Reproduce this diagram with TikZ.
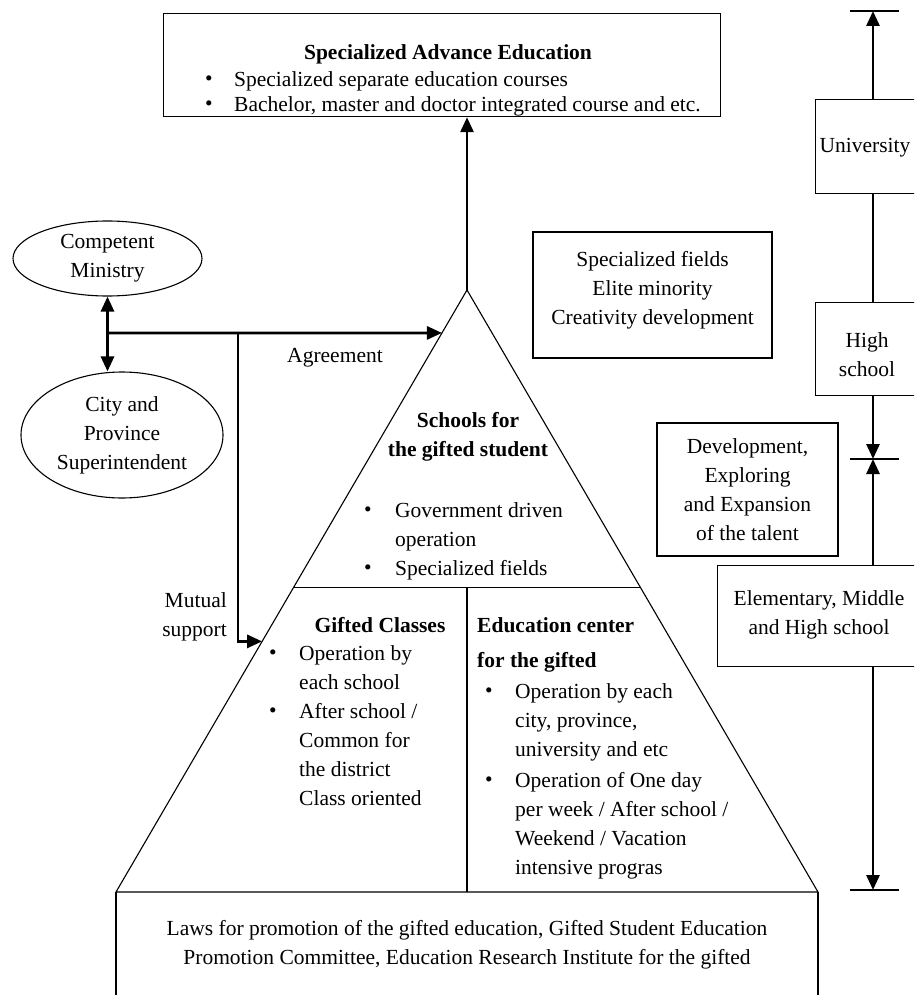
\documentclass[tikz,border=0pt]{standalone}
\usepackage{fontspec}
\setmainfont{Liberation Serif}
\usetikzlibrary{arrows.meta,calc,shapes.geometric}

\begin{document}
\begin{tikzpicture}[x=1pt,y=-1pt,
  txt/.style={font=\fontsize{21.5}{29}\selectfont, inner sep=0pt, align=center},
  ltxt/.style={font=\fontsize{21.5}{29}\selectfont, inner sep=0pt, align=left},
  frame/.style={draw, line width=1.2pt, inner sep=0pt},
  edge/.style={line width=1.1pt},
  heavy/.style={line width=2.8pt},
  flow/.style={line width=2.8pt, -{Triangle[length=15pt,width=13pt]}},
  biflow/.style={line width=2.8pt, {Triangle[length=15pt,width=13pt]}-{Triangle[length=15pt,width=13pt]}},
  dot/.style={font=\fontsize{21.5}{29}\selectfont, inner sep=0pt}
]
\useasboundingbox (0,0) rectangle (914,995);
\clip (0,0) rectangle (914,995);

% ---------- top box ----------
\node[frame, minimum width=557pt, minimum height=103pt, anchor=north west] (topbox) at (163,13) {};
\node[txt] (toptitle) at (448,54) {\textbf{Specialized Advance Education}};
\node[dot] (tb1) at (209,81) {•};
\node[ltxt, anchor=west] (tt1) at (234,81) {Specialized separate education courses};
\node[dot] (tb2) at (209,106) {•};
\node[ltxt, anchor=west] (tt2) at (234,106) {Bachelor, master and doctor integrated course and etc.};

% ---------- pyramid ----------
\coordinate (apex) at (467,290);
\coordinate (bl) at (116,892);
\coordinate (br) at (818,892);
\coordinate (dl) at ($(apex)!0.494!(bl)$);
\coordinate (dr) at ($(apex)!0.494!(br)$);
\coordinate (dm) at (apex |- dl);
\coordinate (bm) at (apex |- bl);
\coordinate (blb) at (116,1000);
\coordinate (brb) at (818,1000);
\draw[edge] (apex) -- (bl) -- (br) -- cycle;
\draw[edge] (dl) -- (dr);
\draw[edge] (dm) -- (bm);
\draw[edge] (blb) -- (bl);
\draw[edge] (brb) -- (br);

\draw[flow] (apex) -- (apex |- topbox.south);

\node[txt] (schools) at (468,437) {\textbf{Schools for}\\\textbf{the gifted student}};
\node[dot] (sb1) at (368,512) {•};
\node[ltxt, anchor=north west] (st1) at (395,502) {Government driven\\operation};
\node[dot] (sb2) at (368,570) {•};
\node[ltxt, anchor=west] (st2) at (395,570) {Specialized fields};

\node[txt] (gifted) at (380,625) {\textbf{Gifted Classes}};
\node[dot] (gb1) at (273,655) {•};
\node[ltxt, anchor=north west] (gt1) at (299,645) {Operation by\\each school};
\node[dot] (gb2) at (273,713) {•};
\node[ltxt, anchor=north west] (gt2) at (299,703) {After school /\\Common for\\the district\\Class oriented};

\node[ltxt, anchor=west] (edu1) at (477,625) {\textbf{Education center}};
\node[ltxt, anchor=west] (edu2) at (477,662) {\textbf{for the gifted}};
\node[dot] (eb1) at (489,693) {•};
\node[ltxt, anchor=north west] (et1) at (515,683) {Operation by each\\city, province,\\university and etc};
\node[dot] (eb2) at (489,782) {•};
\node[ltxt, anchor=north west] (et2) at (515,772) {Operation of One day\\per week / After school /\\Weekend / Vacation\\intensive progras};

\node[txt] (laws) at (467,945) {Laws for promotion of the gifted education, Gifted Student Education\\Promotion Committee, Education Research Institute for the gifted};

% ---------- left side ----------
\node[draw, ellipse, edge, txt, minimum width=189pt, minimum height=75pt] (minis) at (107.5,258.5) {Competent\\Ministry};
\node[draw, ellipse, edge, txt, minimum width=202pt, minimum height=126pt] (city) at (122,435) {City and\\Province\\Superintendent};
\draw[biflow] (minis.south) -- (minis.south |- city.north);

\coordinate (j1) at (107,333);
\coordinate (j2) at (238,333);
\coordinate (tipA) at ($(apex)!0.0713!(bl)$);
\coordinate (tipM) at ($(apex)!0.5837!(bl)$);
\draw[flow] (j1) -- (tipA);
\draw[flow] (j2) |- (tipM);
\node[txt] (agree) at (335,358) {Agreement};
\node[txt, align=right, anchor=east] (mutual) at (227,617) {Mutual\\support};

% ---------- middle notes ----------
\node[frame, minimum width=239pt, minimum height=126pt] (fields) at (652.5,295) {};
\node[txt] (fieldst) at (652.5,290) {Specialized fields\\Elite minority\\Creativity development};
\node[frame, txt, minimum width=181pt, minimum height=133pt] (devel) at (747.5,489.5) {Development,\\Exploring\\and Expansion\\of the talent};

% ---------- right scale ----------
\coordinate (topbar) at (873,11);
\coordinate (midbar) at (873,459);
\coordinate (botbar) at (873,890);
\draw[heavy] (850,11) -- (899,11);
\draw[heavy] (850,459) -- (899,459);
\draw[heavy] (850,890) -- (899,890);

\node[frame, minimum width=130pt, minimum height=94pt, anchor=north west] (univ) at (815,99) {};
\node[txt] (univt) at (865,148) {University};
\node[frame, minimum width=130pt, minimum height=93pt, anchor=north west] (high) at (815,302) {};
\node[txt] (hight) at (867,355) {High\\school};
\node[frame, minimum width=220pt, minimum height=101pt, anchor=north west] (elem) at (717,565) {};
\node[txt] (elemt) at (819,615) {Elementary, Middle\\and High school};

\draw[flow] (topbar |- univ.north) -- (topbar);
\draw[heavy] (topbar |- univ.south) -- (topbar |- high.north);
\draw[flow] (topbar |- high.south) -- (midbar);
\draw[flow] (topbar |- elem.north) -- (midbar);
\draw[flow] (topbar |- elem.south) -- (botbar);
\end{tikzpicture}
\end{document}
